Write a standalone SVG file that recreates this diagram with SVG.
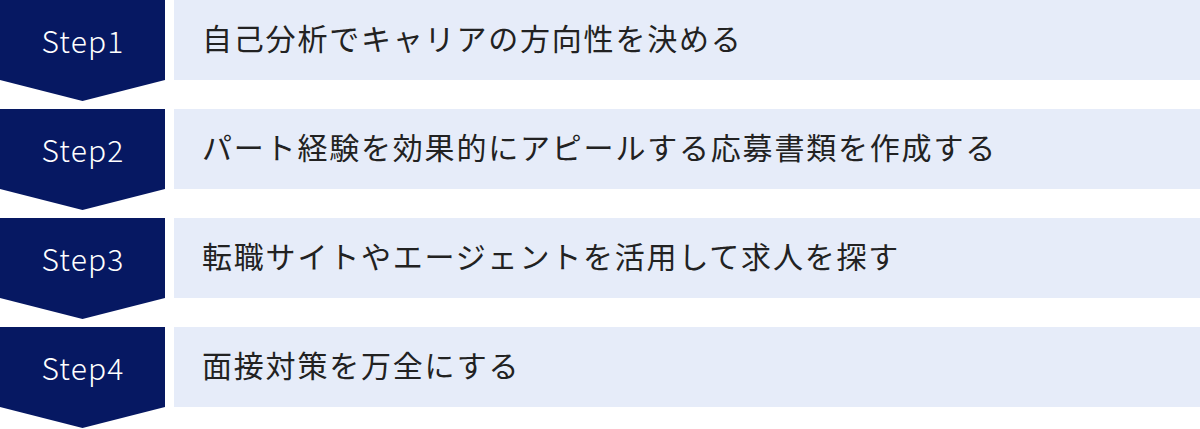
<svg xmlns="http://www.w3.org/2000/svg" width="1200" height="429" viewBox="0 0 1200 429">
<style>
.chev{fill:#061862}
.bar{fill:#e6ecf9}
.step{font-family:"Noto Sans CJK JP","Noto Sans",sans-serif;font-size:30px;font-weight:300;fill:#ffffff;letter-spacing:1.2px}
.lbl{font-family:"Noto Sans CJK JP","Noto Sans",sans-serif;font-size:30px;fill:#222222;letter-spacing:1.8px}
</style>
<rect width="1200" height="429" fill="#ffffff"/>
<g id="step1">
<polygon class="chev" points="0,0 165,0 165,80 82.5,101 0,80"/>
<rect class="bar" x="174" y="0" width="1026" height="80"/>
<text class="step" x="83" y="53" text-anchor="middle">Step1</text>
<text class="lbl" x="202" y="50">自己分析でキャリアの方向性を決める</text>
</g>
<g id="step2">
<polygon class="chev" points="0,109 165,109 165,189 82.5,210 0,189"/>
<rect class="bar" x="174" y="109" width="1026" height="80"/>
<text class="step" x="83" y="162" text-anchor="middle">Step2</text>
<text class="lbl" x="202" y="159">パート経験を効果的にアピールする応募書類を作成する</text>
</g>
<g id="step3">
<polygon class="chev" points="0,218 165,218 165,298 82.5,319 0,298"/>
<rect class="bar" x="174" y="218" width="1026" height="80"/>
<text class="step" x="83" y="271" text-anchor="middle">Step3</text>
<text class="lbl" x="202" y="268">転職サイトやエージェントを活用して求人を探す</text>
</g>
<g id="step4">
<polygon class="chev" points="0,327 165,327 165,407 82.5,428 0,407"/>
<rect class="bar" x="174" y="327" width="1026" height="80"/>
<text class="step" x="83" y="380" text-anchor="middle">Step4</text>
<text class="lbl" x="202" y="377">面接対策を万全にする</text>
</g>
<g id="connectors"/>
</svg>
